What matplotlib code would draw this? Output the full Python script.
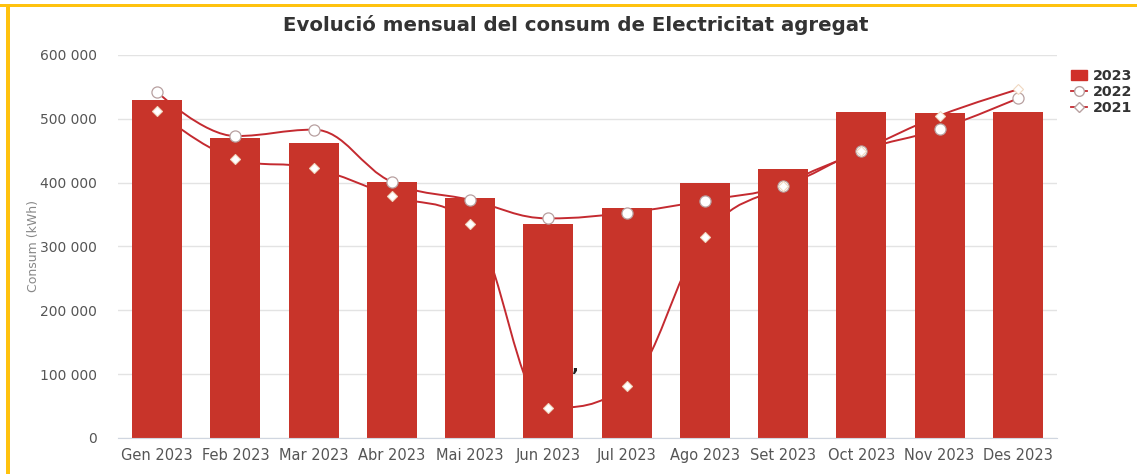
import matplotlib
matplotlib.use("Agg")
import matplotlib.pyplot as plt
from matplotlib.path import Path
from matplotlib.patches import PathPatch, Rectangle
from matplotlib.ticker import FuncFormatter
import numpy as np

months = ["Gen 2023", "Feb 2023", "Mar 2023", "Abr 2023", "Mai 2023", "Jun 2023",
          "Jul 2023", "Ago 2023", "Set 2023", "Oct 2023", "Nov 2023", "Des 2023"]
consum_2023 = [529500, 470500, 461500, 400500, 376000, 335000,
               360000, 399000, 421000, 511000, 509000, 511000]
consum_2022 = [542000, 473000, 483000, 401000, 373000, 344000,
               353000, 372000, 395000, 450000, 484000, 532000]
consum_2021 = [512000, 437000, 422500, 379000, 336000, 47500,
               81500, 315500, 395000, 450000, 505000, 546000]

BAR = "#c8342a"
LINE = "#c42a30"


def spline_path(xs, ys, smoothing=1.5):
    # same kind of smooth curve a highcharts "spline" series draws
    n = len(xs)
    left = [(xs[i], ys[i]) for i in range(n)]
    right = [(xs[i], ys[i]) for i in range(n)]
    denom = smoothing + 1
    for i in range(1, n - 1):
        lx, ly = xs[i - 1], ys[i - 1]
        px, py = xs[i], ys[i]
        nx, ny = xs[i + 1], ys[i + 1]
        lcx = (smoothing * px + lx) / denom
        lcy = (smoothing * py + ly) / denom
        rcx = (smoothing * px + nx) / denom
        rcy = (smoothing * py + ny) / denom
        if rcx != lcx:
            corr = ((rcy - lcy) * (rcx - px)) / (rcx - lcx) + py - rcy
            lcy += corr
            rcy += corr
            if lcy > ly and lcy > py:
                lcy = max(ly, py)
                rcy = 2 * py - lcy
            elif lcy < ly and lcy < py:
                lcy = min(ly, py)
                rcy = 2 * py - lcy
            if rcy > ny and rcy > py:
                rcy = max(ny, py)
                lcy = 2 * py - rcy
            elif rcy < ny and rcy < py:
                rcy = min(ny, py)
                lcy = 2 * py - rcy
        left[i] = (lcx, lcy)
        right[i] = (rcx, rcy)
    verts = [(xs[0], ys[0])]
    codes = [Path.MOVETO]
    for i in range(1, n):
        verts += [right[i - 1], left[i], (xs[i], ys[i])]
        codes += [Path.CURVE4] * 3
    return Path(verts, codes)


fig = plt.figure(figsize=(11.37, 4.74), dpi=100)
ax = fig.add_axes([0.1038, 0.076, 0.8258, 0.808])

x = np.arange(len(months))

ax.bar(x, consum_2023, width=0.64, color=BAR, zorder=2)

for vals in (consum_2022, consum_2021):
    p = spline_path(list(x), vals)
    ax.add_patch(PathPatch(p, fill=False, edgecolor=LINE, lw=1.4, zorder=1))

ax.plot(x, consum_2022, ls="none", marker="o", ms=8, mfc="white",
        mec="#b8a0a0", mew=0.9, zorder=3)
ax.plot(x, consum_2021, ls="none", marker="D", ms=5, mfc="white",
        mec="#f0d8c0", mew=0.8, zorder=3)

ax.set_xlim(-0.5, len(months) - 0.5)
ax.set_ylim(0, 600000)
ax.set_yticks(range(0, 600001, 100000))
ax.yaxis.set_major_formatter(FuncFormatter(lambda v, _: f"{int(v):,}".replace(",", " ")))
ax.set_xticks(x)
ax.set_xticklabels(months)

ax.grid(axis="y", color="#e3e3e3", lw=1, zorder=0)
ax.set_axisbelow(True)
for s in ("top", "right", "left"):
    ax.spines[s].set_visible(False)
ax.spines["bottom"].set_color("#d0d6e0")
ax.tick_params(axis="y", length=0, pad=15, labelsize=10, labelcolor="#555555")
ax.tick_params(axis="x", length=0, pad=7, labelsize=10.5, labelcolor="#555555")

ax.set_ylabel("Consum (kWh)", color="#888888", fontsize=9, labelpad=0)

fig.text(0.506, 0.948, "Evolució mensual del consum de Electricitat agregat",
         ha="center", va="center", fontsize=14.2, fontweight="bold", color="#333333")

# stray comma that shows in the original chart
ax.text(5.34, 112000, ",", fontsize=13, fontweight="bold", color="#222222",
        ha="center", va="center")

# legend
h_bar = Rectangle((0, 0), 1, 1, color="#d0302a")
h22, = ax.plot([], [], color=LINE, lw=1.3, marker="o", ms=7, mfc="white", mec="#b8a0a0")
h21, = ax.plot([], [], color=LINE, lw=1.3, marker="D", ms=5, mfc="white", mec="#b8a0a0")
leg = fig.legend([h_bar, h22, h21], ["2023", "2022", "2021"],
                 loc="upper left", bbox_to_anchor=(0.942, 0.855), frameon=False,
                 borderpad=0, borderaxespad=0,
                 handlelength=1.1, handletextpad=0.4, labelspacing=0.15,
                 prop={"weight": "bold", "size": 10.3})
for t in leg.get_texts():
    t.set_color("#333333")

# yellow frame of the screenshot (top and left edges)
fig.add_artist(Rectangle((0, 1 - 7 / 474), 1, 3.5 / 474, transform=fig.transFigure,
                         color="#ffc20e", lw=0))
fig.add_artist(Rectangle((6 / 1137, 0), 4 / 1137, 1 - 4 / 474, transform=fig.transFigure,
                         color="#ffc20e", lw=0))

fig.savefig("out.png", dpi=100)
